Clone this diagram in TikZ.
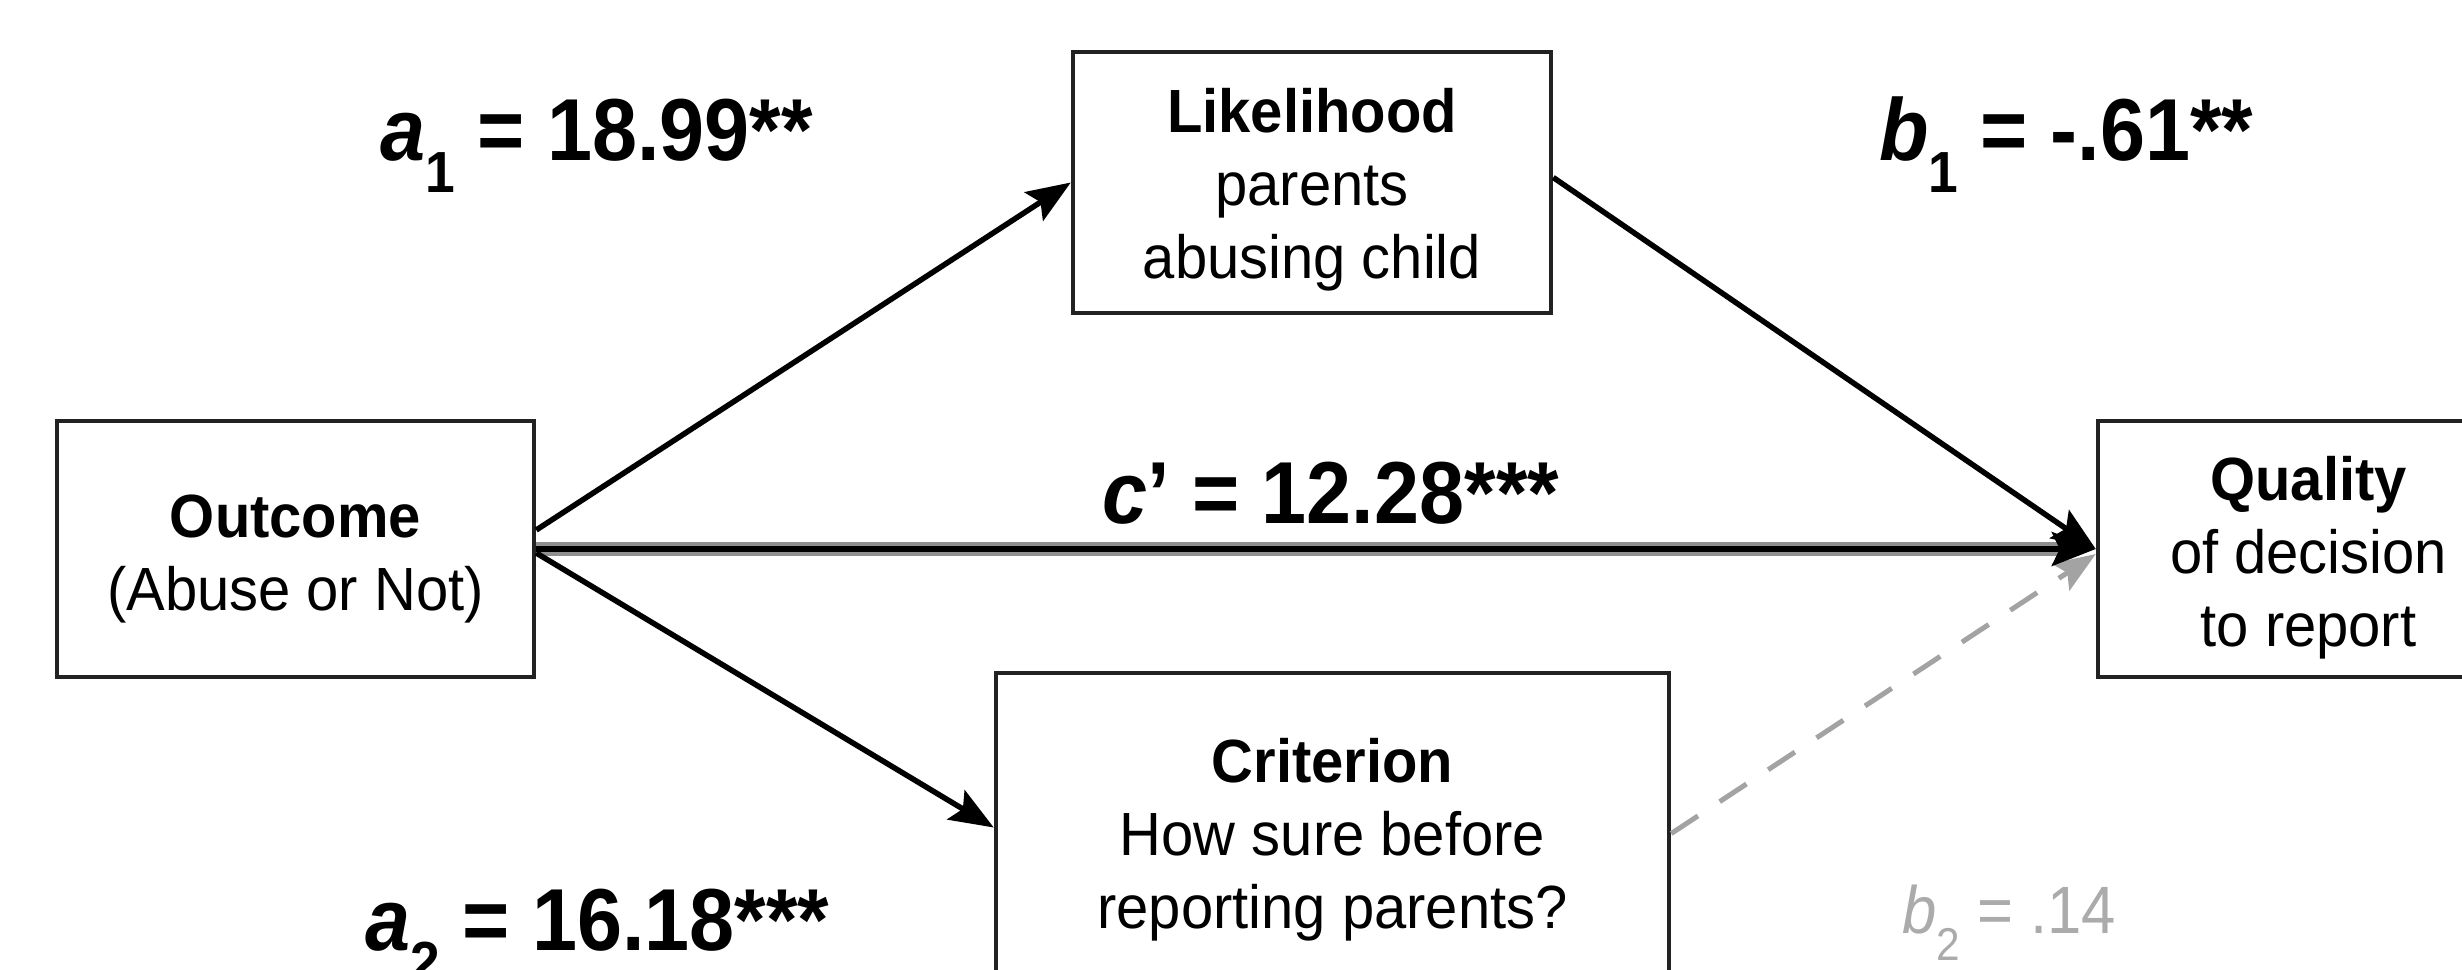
\documentclass[tikz,border=0pt]{standalone}
\usepackage{fontspec}
\newfontfamily\boxfont[FakeStretch=0.95]{Liberation Sans}
\newfontfamily\labfont[FakeStretch=0.92]{Liberation Sans}
\usetikzlibrary{arrows.meta}
\definecolor{boxline}{HTML}{222222}
\definecolor{dashgray}{HTML}{A3A3A3}
\definecolor{lightlab}{HTML}{ABABAB}
\definecolor{edgegray}{HTML}{909090}
\newcommand\lsub[1]{\raisebox{-32pt}{\fontsize{58}{58}\selectfont #1}}
\newcommand\ssub[1]{\raisebox{-27pt}{\fontsize{46}{46}\selectfont #1}}
\begin{document}
\begin{tikzpicture}[x=1pt,y=-1pt,
  box/.style={draw=boxline, line width=4.5pt, inner sep=0pt, rectangle},
  btxt/.style={font=\boxfont\fontsize{61}{73}\selectfont, inner sep=0pt, anchor=base},
  lab/.style={font=\labfont\bfseries\fontsize{88}{100}\selectfont, inner sep=0pt, anchor=base west},
  smalllab/.style={font=\labfont\fontsize{67}{75}\selectfont, text=lightlab, inner sep=0pt, anchor=base west},
  arr/.style={-{Stealth[length=44pt,width=34pt,inset=8pt]}, line width=5.5pt, draw=black},
  darr/.style={-{Stealth[length=42pt,width=32pt,inset=8pt]}, line width=5pt, draw=dashgray, dash pattern=on 32pt off 26pt}
]
\useasboundingbox (0,0) rectangle (2462,969);
\clip (0,0) rectangle (2462,969);
\fill[white] (0,0) rectangle (2462,969);

% boxes
\node[box, minimum width=478pt, minimum height=261pt] (like) at (1312,182.5) {};
\node[box, minimum width=477pt, minimum height=256pt] (out) at (295.5,549) {};
\node[box, minimum width=421pt, minimum height=256pt] (qual) at (2308.5,549) {};
\node[box, minimum width=673pt, minimum height=337pt] (crit) at (1332.5,841.5) {};

% box texts
\node[btxt] (like1) at (1312,132) {\bfseries Likelihood};
\node[btxt] (like2) at (1312,205) {parents};
\node[btxt] (like3) at (1312,278) {abusing child};
\node[btxt] (out1) at (295.5,537) {\bfseries Outcome};
\node[btxt] (out2) at (295.5,610) {(Abuse or Not)};
\node[btxt] (qual1) at (2308.5,500) {\bfseries Quality};
\node[btxt] (qual2) at (2308.5,573) {of decision};
\node[btxt] (qual3) at (2308.5,646) {to report};
\node[btxt] (crit1) at (1332.5,782) {\bfseries Criterion};
\node[btxt] (crit2) at (1332.5,855) {How sure before};
\node[btxt] (crit3) at (1332.5,928) {reporting parents?};

% connectors
\draw[darr] ([yshift=8pt]crit.east) -- ([yshift=-5pt]qual.west);
\draw[line width=14pt, draw=edgegray, shorten >=30pt] (out.east) -- (qual.west);
\draw[arr] (out.east) -- (qual.west);
\draw[arr] ([yshift=19pt]out.east) -- (like.west);
\draw[arr] ([yshift=-4pt]out.east) -- ([yshift=14pt]crit.west);
\draw[arr] ([yshift=5pt]like.east) -- (qual.west);

% labels
\node[lab] (la1) at (380,160) {\textit{a}\lsub{1} = 18.99**};
\node[lab] (lb1) at (1879,160) {\textit{b}\lsub{1} = -.61**};
\node[lab] (lc) at (1102,523) {\textit{c}’ = 12.28***};
\node[lab] (la2) at (365,950) {\textit{a}\lsub{2} = 16.18***};
\node[smalllab] (lb2) at (1902,933) {\textit{b}\ssub{2} = .14};
\end{tikzpicture}
\end{document}
